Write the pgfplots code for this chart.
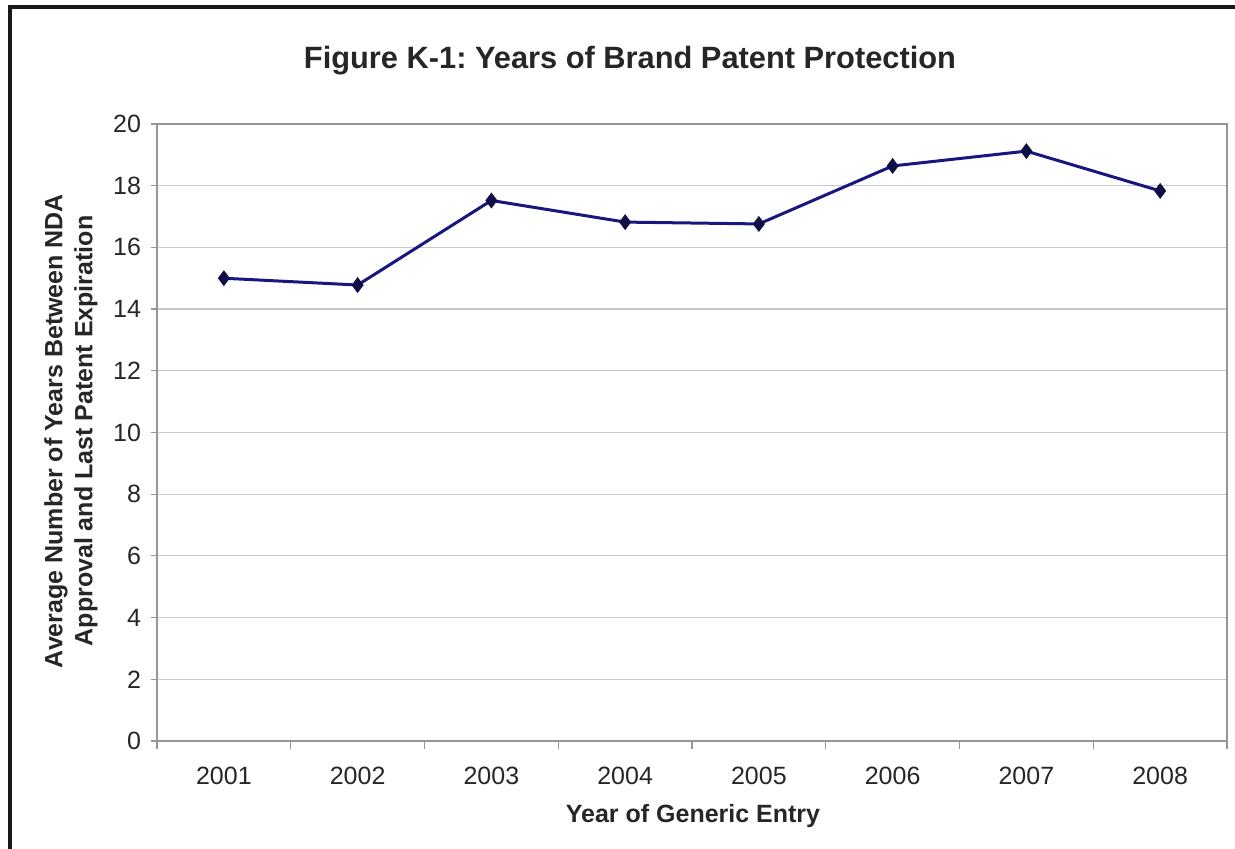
\documentclass[border=0pt]{standalone}
\usepackage{fontspec}
\setmainfont{Liberation Sans}
\usepackage{pgfplots}
\pgfplotsset{compat=1.18}

\definecolor{linenavy}{RGB}{26,22,128}
\definecolor{marknavy}{RGB}{16,14,70}
\definecolor{gridgray}{RGB}{200,200,200}
\definecolor{boxgray}{RGB}{150,150,150}

\frenchspacing
\begin{document}
\begin{tikzpicture}
\begin{axis}[
  at={(0,0)}, anchor=south west,
  scale only axis,
  width=535pt, height=308.5pt,
  xmin=0.5, xmax=8.5,
  ymin=0, ymax=20,
  xtick={1,...,8},
  xticklabels={2001,2002,2003,2004,2005,2006,2007,2008},
  minor xtick={0.5,1.5,...,8.5},
  ytick={0,2,...,20},
  major x tick style={draw=none},
  minor tick length=4pt,
  major tick length=3pt,
  tick align=outside,
  xtick pos=bottom, ytick pos=left,
  tick style={boxgray, line width=0.6pt},
  ymajorgrids,
  grid style={gridgray, line width=0.6pt},
  axis line style={boxgray, line width=0.8pt},
  /pgf/number format/assume math mode=true,
  ticklabel style={font=\fontsize{12.5}{14}\selectfont, text=black!85},
  xticklabel style={yshift=-6.5pt},
  yticklabel style={xshift=-1.5pt},
  clip=false,
]
\addplot[linenavy, line width=1.5pt,
  mark=diamond*, mark size=3.5pt,
  mark options={fill=marknavy, draw=marknavy, line width=0.6pt}]
  coordinates {
    (1,15.0) (2,14.78) (3,17.52) (4,16.82)
    (5,16.76) (6,18.64) (7,19.12) (8,17.83)
  };
\end{axis}

% title and axis titles
\node[anchor=base, font=\bfseries\fontsize{15.4}{18}\selectfont, text=black!85]
  at (236.5pt,336pt) {Figure K-1: Years of Brand Patent Protection};
\node[anchor=base, font=\bfseries\fontsize{12.5}{14}\selectfont, text=black!85]
  at (268pt,-41pt) {Year of Generic Entry};
\node[rotate=90, align=center, font=\bfseries\fontsize{12.5}{15}\selectfont, text=black!85]
  at (-43pt,155pt) {Average Number of Years Between NDA\\Approval and Last Patent Expiration};

% outer frame
\draw[black!90, line width=2pt] (-73.5pt,-60pt) -- (-73.5pt,367pt) -- (545pt,367pt);

\pgfresetboundingbox
\path (-78.5pt,-54pt) rectangle (539pt,370.5pt);
\end{tikzpicture}
\end{document}
